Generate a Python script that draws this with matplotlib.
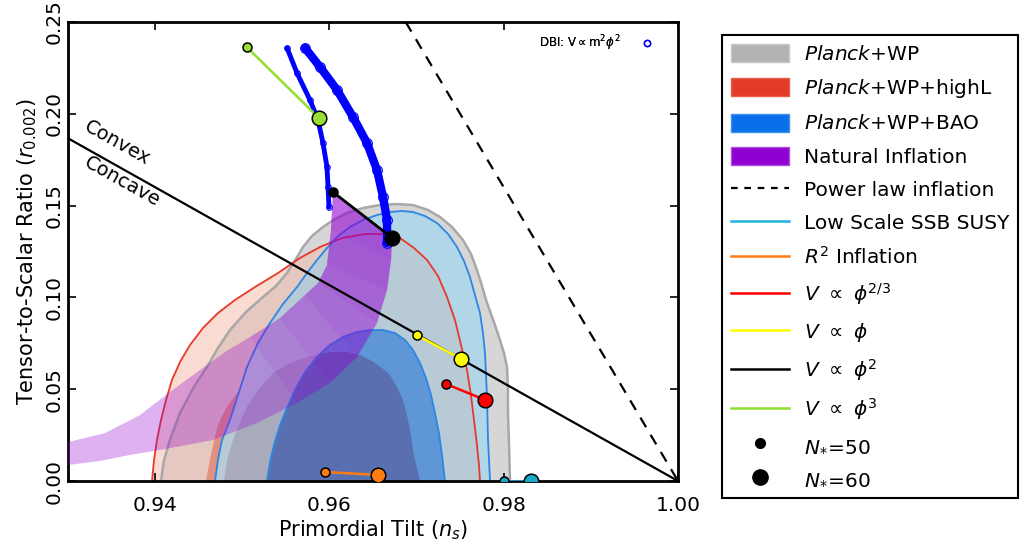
import numpy as np
import matplotlib.pyplot as plt
from matplotlib.patches import Polygon, Patch
from matplotlib.lines import Line2D

# Contornos de Planck (ns, r)
gray95_ns = [0.94067, 0.94102, 0.94170, 0.94285, 0.94457, 0.94595, 0.94721, 0.94859, 0.95043, 0.95238,
             0.95387, 0.95513, 0.95616, 0.95697, 0.95800, 0.95926, 0.96064, 0.96202, 0.96385, 0.96580,
             0.96775, 0.96959, 0.97131, 0.97269, 0.97407, 0.97533, 0.97625, 0.97693, 0.97751, 0.97808,
             0.97888, 0.97957, 0.98003, 0.98038, 0.98049, 0.98049, 0.98061, 0.98072]
gray95_r = [0.0, 0.01144, 0.02233, 0.03704, 0.05229, 0.06209, 0.07244, 0.08224, 0.09205, 0.10022,
            0.10621, 0.11329, 0.12091, 0.12745, 0.13344, 0.13834, 0.14270, 0.14597, 0.14869, 0.15033,
            0.15087, 0.15033, 0.14760, 0.14379, 0.13834, 0.13126, 0.12364, 0.11492, 0.10621, 0.09695,
            0.08660, 0.07680, 0.06972, 0.06209, 0.04956, 0.03704, 0.01961, 0.0]

gray68_ns = [0.94790, 0.94825, 0.94893, 0.94974, 0.95054, 0.95180, 0.95352, 0.95548, 0.95743, 0.95892,
             0.96041, 0.96202, 0.96351, 0.96489, 0.96603, 0.96695, 0.96775, 0.96844, 0.96890, 0.96924,
             0.96970, 0.97039]
gray68_r = [0.0, 0.01144, 0.02233, 0.03214, 0.04031, 0.04956, 0.05882, 0.06427, 0.06754, 0.06917,
            0.07026, 0.07026, 0.06863, 0.06536, 0.06155, 0.05773, 0.05120, 0.04412, 0.03595, 0.02778,
            0.01416, 0.0]

red95_ns = [0.93964, 0.93987, 0.94021, 0.94067, 0.94125, 0.94193, 0.94285, 0.94400, 0.94549, 0.94721,
            0.94916, 0.95146, 0.95410, 0.95662, 0.95892, 0.96144, 0.96408, 0.96638, 0.96810, 0.96970,
            0.97120, 0.97246, 0.97349, 0.97441, 0.97510, 0.97579, 0.97624, 0.97659, 0.97693, 0.97716,
            0.97728]
red95_r = [0.0, 0.01144, 0.02233, 0.03322, 0.04412, 0.05501, 0.06481, 0.07407, 0.08333, 0.09150,
           0.09858, 0.10566, 0.11329, 0.12146, 0.12745, 0.13235, 0.13453, 0.13453, 0.13235, 0.12691,
           0.12037, 0.11166, 0.10022, 0.08769, 0.07407, 0.06046, 0.04684, 0.03322, 0.01961, 0.00871,
           0.0]

red68_ns = [0.94584, 0.94618, 0.94652, 0.94687, 0.94721, 0.94779, 0.94836, 0.94951, 0.95089, 0.95295,
            0.95548, 0.95834, 0.96121, 0.96408, 0.96695, 0.96924, 0.97154, 0.97303, 0.97407, 0.97475,
            0.97521, 0.97544, 0.97556]
red68_r = [0.0, 0.00871, 0.01688, 0.02397, 0.03050, 0.03649, 0.04139, 0.04848, 0.05610, 0.06427,
           0.07244, 0.07952, 0.08442, 0.08715, 0.08769, 0.08551, 0.08007, 0.07244, 0.06155, 0.04848,
           0.03322, 0.01688, 0.0]

blue95_ns = [0.94687, 0.94721, 0.94767, 0.94859, 0.94951, 0.95054, 0.95180, 0.95318, 0.95467, 0.95628,
             0.95743, 0.95857, 0.95972, 0.96087, 0.96236, 0.96385, 0.96546, 0.96695, 0.96833, 0.96959,
             0.97097, 0.97234, 0.97361, 0.97464, 0.97544, 0.97613, 0.97670, 0.97728, 0.97762, 0.97785,
             0.97797, 0.97808, 0.97820, 0.97843]
blue95_r = [0.0, 0.01144, 0.02233, 0.03322, 0.04684, 0.06209, 0.07516, 0.08606, 0.09640, 0.10566,
            0.11329, 0.12037, 0.12691, 0.13290, 0.13834, 0.14216, 0.14488, 0.14651, 0.14706, 0.14651,
            0.14433, 0.14052, 0.13453, 0.12745, 0.11983, 0.11111, 0.10131, 0.09150, 0.08061, 0.06972,
            0.05773, 0.04575, 0.02233, 0.0]

blue68_ns = [0.95284, 0.95318, 0.95364, 0.95433, 0.95513, 0.95605, 0.95720, 0.95857, 0.96006, 0.96156,
             0.96316, 0.96466, 0.96615, 0.96752, 0.96867, 0.96959, 0.97039, 0.97108, 0.97166, 0.97211,
             0.97257, 0.97292, 0.97326]
blue68_r = [0.0, 0.01035, 0.01961, 0.03050, 0.03976, 0.04956, 0.05937, 0.06754, 0.07407, 0.07843,
            0.08116, 0.08224, 0.08224, 0.08061, 0.07680, 0.07135, 0.06427, 0.05610, 0.04684, 0.03704,
            0.02614, 0.01416, 0.0]

# Inflacion natural (borde superior y luego borde inferior)
natural_ns = [0.96041, 0.96018, 0.95972, 0.95869, 0.95720, 0.95433, 0.95089, 0.94802, 0.94515, 0.94170,
              0.93826, 0.93425, 0.93000,
              0.93000, 0.93367, 0.93711, 0.94056, 0.94664, 0.95169, 0.95628, 0.96006, 0.96316, 0.96546,
              0.96661, 0.96707, 0.96718]
natural_r = [0.1574, 0.1367, 0.1176, 0.1078, 0.1013, 0.0888, 0.0784, 0.0703, 0.0605, 0.0485,
             0.0359, 0.0261, 0.0212,
             0.0087, 0.0109, 0.0142, 0.0169, 0.0223, 0.0316, 0.0425, 0.0534, 0.0675, 0.0861,
             0.1040, 0.1204, 0.1324]

# DBI: V ~ m^2 phi^2, dos trayectorias
dbi1_ns = [0.95513, 0.95628, 0.95777, 0.95869, 0.95926, 0.95972, 0.95984, 0.95995]
dbi1_r = [0.2359, 0.2222, 0.2075, 0.1966, 0.1841, 0.1710, 0.1601, 0.1492]
dbi2_ns = [0.95720, 0.95892, 0.96087, 0.96270, 0.96431, 0.96546, 0.96615, 0.96661, 0.96661]
dbi2_r = [0.2359, 0.2255, 0.2130, 0.1983, 0.1841, 0.1694, 0.1547, 0.1422, 0.1296]

# Modelos: (N=50, N=60)
phi2_ns = [0.9604, 0.9672]
phi2_r = [0.1574, 0.1324]
phi3_ns = [0.9505, 0.9588]
phi3_r = [0.2364, 0.1977]
phi1_ns = [0.9700, 0.9751]
phi1_r = [0.0795, 0.0665]
phi23_ns = [0.9734, 0.9779]
phi23_r = [0.0528, 0.0441]
r2_ns = [0.9595, 0.9656]
r2_r = [0.0049, 0.0033]
susy_ns = [0.9800, 0.9831]
susy_r = [0.0, 0.0]

# Rectas
convex_ns = [0.93, 1.00]
convex_r = [8 / 3 * 0.07, 0.0]
powerlaw_ns = [1.00 - 0.25 / 8, 1.00]
powerlaw_r = [0.25, 0.0]

fig = plt.figure(figsize=(10.3, 5.45), dpi=100)
ax = fig.add_axes([68 / 1030, 64 / 545, 610 / 1030, 459 / 545])


def poly(ns, r, fc, z, clip=None):
    p = Polygon(np.column_stack([ns, r]), closed=True, facecolor=fc, edgecolor='none', zorder=z)
    ax.add_patch(p)
    if clip is not None:
        p.set_clip_path(clip)
    return p


red95 = poly(red95_ns, red95_r, '#f9dbd2', 1.0)
poly(gray95_ns, gray95_r, '#d6d6d6', 1.1)
poly(gray95_ns, gray95_r, '#e5c8bf', 1.2, clip=red95)
poly(red68_ns, red68_r, '#e3907f', 1.3)
blue95 = poly(blue95_ns, blue95_r, '#b0d6e8', 1.4)
poly(red95_ns, red95_r, '#b8cad6', 1.5, clip=blue95)
poly(gray68_ns, gray68_r, '#a9abbd', 1.6)
blue68 = poly(blue68_ns, blue68_r, '#5f96d6', 1.7)
poly(gray68_ns, gray68_r, '#5a6fb0', 1.8, clip=blue68)

ax.plot(gray95_ns, gray95_r, color='#a8a8a8', lw=1.8, zorder=2)
ax.plot(red95_ns, red95_r, color='#e8382a', lw=1.3, zorder=2.1)
ax.plot(blue95_ns, blue95_r, color='#2b86e6', lw=1.3, zorder=2.1)
ax.plot(blue68_ns, blue68_r, color='#2b86e6', lw=1.3, zorder=2.1)

# banda clara completa; la parte alta se oscurece en capas finas
ax.fill(natural_ns, natural_r, color='#9400d3', alpha=0.3, lw=0, zorder=3)
for k in range(6):
    ax.fill(natural_ns[:2 + k] + natural_ns[-2 - k:], natural_r[:2 + k] + natural_r[-2 - k:],
            color='#9400d3', alpha=0.08, lw=0, zorder=3.1)

# DBI
ax.plot(dbi1_ns, dbi1_r, color='blue', lw=3.5, zorder=4, solid_capstyle='round')
ax.plot(dbi1_ns, dbi1_r, 'o', mfc='none', mec='blue', ms=4, mew=0.8, zorder=4)
ax.plot(dbi2_ns, dbi2_r, color='blue', lw=6, zorder=4, solid_capstyle='round')
ax.plot(dbi2_ns, dbi2_r, 'o', mfc='none', mec='blue', ms=7, mew=0.8, zorder=4)

ax.plot(convex_ns, convex_r, color='black', lw=1.6, zorder=5)
ax.plot(powerlaw_ns, powerlaw_r, color='black', lw=1.6, ls=(0, (5, 4)), zorder=5)

models = [
    (phi2_ns, phi2_r, 'black', 'black'),
    (phi3_ns, phi3_r, '#8ee02c', '#99dd33'),
    (phi1_ns, phi1_r, '#ffff00', '#ffff00'),
    (phi23_ns, phi23_r, '#ff0000', '#ff0000'),
    (r2_ns, r2_r, '#ff7c10', '#ff7c10'),
    (susy_ns, susy_r, '#1fb4dc', '#1aa8c8'),
]
for ns, r, lc, mc in models:
    ax.plot(ns, r, color=lc, lw=2 if lc == 'black' else 1.8, zorder=6)
    ax.plot(ns[0], r[0], 'o', ms=6.5, mfc=mc, mec='black', mew=1.1, zorder=7)
    ax.plot(ns[1], r[1], 'o', ms=10.5, mfc=mc, mec='black', mew=1.1, zorder=7)

ax.text(0.9357, 0.1841, 'Convex', rotation=-29.2, ha='center', va='center', fontsize=14)
ax.text(0.9362, 0.1629, 'Concave', rotation=-29.2, ha='center', va='center', fontsize=14)

ax.set_xlim(0.93, 1.00)
ax.set_ylim(0.0, 0.25)
ax.set_xticks([0.94, 0.96, 0.98, 1.00])
ax.set_xticklabels(['0.94', '0.96', '0.98', '1.00'])
ax.set_yticks([0.0, 0.05, 0.10, 0.15, 0.20, 0.25])
ax.set_yticklabels(['0.00', '0.05', '0.10', '0.15', '0.20', '0.25'],
                   rotation=90, rotation_mode='anchor', ha='center', va='bottom')
ax.tick_params(direction='in', top=True, right=True, length=6, width=1.2, labelsize=14.5)
ax.tick_params(axis='x', pad=11)
for s in ax.spines.values():
    s.set_linewidth(2)
ax.set_xlabel(r'Primordial Tilt ($n_s$)', fontsize=15, labelpad=2)
ax.set_ylabel(r'Tensor-to-Scalar Ratio ($r_{0.002}$)', fontsize=15)

dbi_leg = ax.legend([Line2D([], [], marker='o', ls='none', mfc='none', mec='blue', ms=4.5)],
                    [r'DBI: V$\propto$m$^2\phi^2$'], loc='upper right', bbox_to_anchor=(0.962, 0.976),
                    frameon=False, fontsize=8.5, markerfirst=False, borderaxespad=0, borderpad=0,
                    handlelength=1.4, handletextpad=1.5)
ax.add_artist(dbi_leg)

handles = [
    Patch(facecolor='#b3b3b3', edgecolor='#c8c8c8'),
    Patch(facecolor='#e23b26', edgecolor='#e86050'),
    Patch(facecolor='#0a70ea', edgecolor='#4090f0'),
    Patch(facecolor='#9000d0', edgecolor='#b050e0'),
    Line2D([], [], color='black', ls=(0, (3, 3)), lw=1.6),
    Line2D([], [], color='#1fb4dc', lw=1.8),
    Line2D([], [], color='#ff7c10', lw=1.8),
    Line2D([], [], color='#ff0000', lw=1.8),
    Line2D([], [], color='#ffff00', lw=1.8),
    Line2D([], [], color='black', lw=1.8),
    Line2D([], [], color='#8ee02c', lw=1.8),
    Line2D([], [], marker='o', ls='none', color='black', ms=7),
    Line2D([], [], marker='o', ls='none', color='black', ms=11),
]
labels = [r'$\it{Planck}$+WP', r'$\it{Planck}$+WP+highL', r'$\it{Planck}$+WP+BAO',
          'Natural Inflation', 'Power law inflation', 'Low Scale SSB SUSY', r'$R^2$ Inflation',
          r'$V\ \propto\ \phi^{2/3}$', r'$V\ \propto\ \phi$', r'$V\ \propto\ \phi^2$',
          r'$V\ \propto\ \phi^3$', r'$N_{*}\!=\!50$', r'$N_{*}\!=\!60$']
leg = fig.legend(handles, labels, loc='upper left', bbox_to_anchor=(722 / 1030, 510 / 545),
                 borderaxespad=0, fontsize=14.5, labelspacing=0.66, handlelength=2.9,
                 handleheight=1.0, handletextpad=0.7, borderpad=0.45, fancybox=False,
                 edgecolor='black', framealpha=1)
leg.get_frame().set_linewidth(1.5)

plt.savefig('out.png', dpi=100)
